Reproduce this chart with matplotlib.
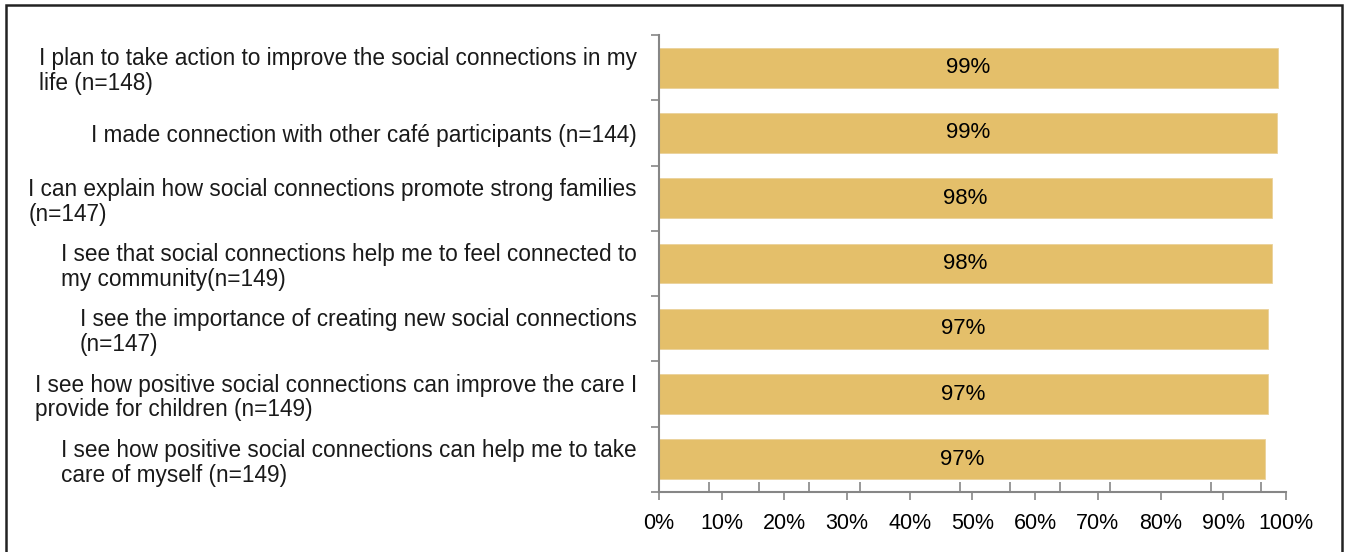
import matplotlib.pyplot as plt
from matplotlib.patches import Rectangle
from matplotlib.ticker import FixedLocator, PercentFormatter

# Survey items, top to bottom
statements = [
    "I plan to take action to improve the social connections in my\nlife (n=148)",
    "I made connection with other café participants (n=144)",
    "I can explain how social connections promote strong families\n(n=147)",
    "I see that social connections help me to feel connected to\nmy community(n=149)",
    "I see the importance of creating new social connections\n(n=147)",
    "I see how positive social connections can improve the care I\nprovide for children (n=149)",
    "I see how positive social connections can help me to take\ncare of myself (n=149)",
]
agree_pct = [98.7, 98.6, 97.8, 97.8, 97.1, 97.1, 96.6]
x_ticks = list(range(0, 101, 10))

bar_color = "#E4BF6A"
axis_color = "#868686"
label_font = ["Liberation Sans", "DejaVu Sans"]
narrow_font = ["Liberation Sans Narrow", "Liberation Sans", "DejaVu Sans"]

fig = plt.figure(figsize=(13.49, 5.52), dpi=100)
ax = fig.add_axes([0.4885, 0.1087, 0.4648, 0.8279])

ypos = list(range(len(statements)))
bars = ax.barh(ypos, agree_pct, height=0.61, color=bar_color, edgecolor="#EAD29A", linewidth=0.6)

# value labels centred in each bar
for y, v in zip(ypos, agree_pct):
    ax.text(v / 2, y, f"{v:.0f}%", ha="center", va="center", fontsize=16,
            family=narrow_font, color="black")

ax.set_xlim(0, 100)
ax.set_ylim(len(statements) - 0.5, -0.5)

# y axis: labels at bar centres, tick marks between categories
ax.set_yticks(ypos)
ax.set_yticklabels(statements, family=label_font, fontsize=16.3, color="#1a1a1a")
for lbl in ax.get_yticklabels():
    lbl.set_multialignment("left")
    lbl.set_linespacing(1.1)
ax.tick_params(axis="y", which="major", length=0, pad=16)
ax.yaxis.set_minor_locator(FixedLocator([i - 0.5 for i in range(len(statements) + 1)]))
ax.tick_params(axis="y", which="minor", length=6, width=1.2, color=axis_color, direction="out")

# x axis: percent ticks, small inner marks
ax.set_xticks(x_ticks)
ax.xaxis.set_major_formatter(PercentFormatter(decimals=0))
for lbl in ax.get_xticklabels():
    lbl.set_family(narrow_font)
ax.tick_params(axis="x", which="major", length=6, width=1.2, color=axis_color,
               direction="out", labelsize=15.5, pad=9)
ax.xaxis.set_minor_locator(FixedLocator(list(range(8, 100, 8))))
ax.tick_params(axis="x", which="minor", length=7, width=1.2, color=axis_color, direction="in")

for side in ["top", "right"]:
    ax.spines[side].set_visible(False)
for side in ["left", "bottom"]:
    ax.spines[side].set_color(axis_color)
    ax.spines[side].set_linewidth(1.5)

# outer frame around the whole chart
fig.patches.append(Rectangle((6 / 1349, -0.05), 1336 / 1349, 1.05 - 5 / 552,
                             transform=fig.transFigure, fill=False,
                             edgecolor="#222222", linewidth=1.8))

fig.savefig("out.png", dpi=100)
